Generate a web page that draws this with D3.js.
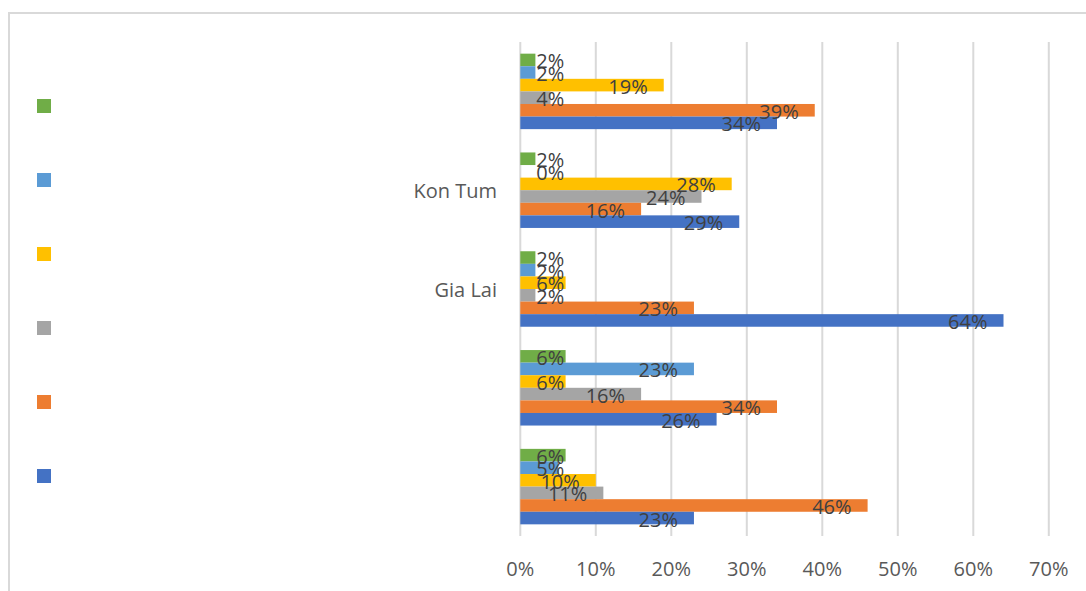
<!DOCTYPE html>
<html>
<head>
<meta charset="utf-8">
<script src="https://cdn.jsdelivr.net/npm/d3@7"></script>
<style>
  html, body { margin: 0; padding: 0; background: #ffffff; }
  svg { display: block; }
</style>
</head>
<body>
<svg id="chart" width="1086" height="591"></svg>
<script>
// Provinces, listed top to bottom as they appear on the chart
const categories = ["", "Kon Tum", "Gia Lai", "", ""];

// Series names as shown in the legend (top to bottom order of the legend)
const seriesNames = ["", "", "", "", "", ""];
const seriesColors = ["#70AD47", "#5B9BD5", "#FFC000", "#A5A5A5", "#ED7D31", "#4472C4"];

// Shares per series, one value per category (same order as categories)
const greenValues     = [0.02, 0.02, 0.02, 0.06, 0.06];
const lightBlueValues = [0.02, 0.00, 0.02, 0.23, 0.05];
const yellowValues    = [0.19, 0.28, 0.06, 0.06, 0.10];
const grayValues      = [0.04, 0.24, 0.02, 0.16, 0.11];
const orangeValues    = [0.39, 0.16, 0.23, 0.34, 0.46];
const blueValues      = [0.34, 0.29, 0.64, 0.26, 0.23];

const xTicks = [0, 0.1, 0.2, 0.3, 0.4, 0.5, 0.6, 0.7];

const seriesValues = [greenValues, lightBlueValues, yellowValues, grayValues, orangeValues, blueValues];

const svg = d3.select("#chart");
const FONT = "'Open Sans', 'Liberation Sans', sans-serif";

// outer frame
svg.append("rect")
  .attr("x", 9).attr("y", 13)
  .attr("width", 1300).attr("height", 800)
  .attr("fill", "none")
  .attr("stroke", "#d9d9d9")
  .attr("stroke-width", 2);

const x = d3.scaleLinear().domain([0, 0.7]).range([520.3, 1048.8]);

const y = d3.scaleBand()
  .domain(d3.range(categories.length))
  .range([42, 536])
  .paddingInner(0.236)
  .paddingOuter(0.118);

const ySeries = d3.scaleBand()
  .domain(d3.range(seriesValues.length))
  .range([0, y.bandwidth()]);

// vertical gridlines
svg.append("g")
  .selectAll("line")
  .data(xTicks)
  .join("line")
  .attr("x1", d => x(d)).attr("x2", d => x(d))
  .attr("y1", 42).attr("y2", 536)
  .attr("stroke", "#d9d9d9")
  .attr("stroke-width", 2);

// x axis tick labels
svg.append("g")
  .selectAll("text")
  .data(xTicks)
  .join("text")
  .attr("x", d => x(d))
  .attr("y", 568)
  .attr("text-anchor", "middle")
  .attr("dominant-baseline", "central")
  .attr("font-family", FONT)
  .attr("font-size", 20)
  .attr("fill", "#595959")
  .text(d => d3.format(".0%")(d));

// category labels
svg.append("g")
  .selectAll("text")
  .data(categories)
  .join("text")
  .attr("x", 497)
  .attr("y", (d, i) => y(i) + y.bandwidth() / 2)
  .attr("text-anchor", "end")
  .attr("dominant-baseline", "central")
  .attr("font-family", FONT)
  .attr("font-size", 20)
  .attr("fill", "#595959")
  .text(d => d);

// bars
const flat = [];
seriesValues.forEach((vals, s) => {
  vals.forEach((v, c) => flat.push({ s, c, v }));
});

svg.append("g")
  .selectAll("rect")
  .data(flat)
  .join("rect")
  .attr("x", x(0))
  .attr("y", d => y(d.c) + ySeries(d.s))
  .attr("width", d => x(d.v) - x(0))
  .attr("height", ySeries.bandwidth())
  .attr("fill", d => seriesColors[d.s]);

// data labels at the inside end of each bar
const labels = svg.append("g")
  .selectAll("text")
  .data(flat)
  .join("text")
  .attr("y", d => y(d.c) + ySeries(d.s) + ySeries.bandwidth() / 2 + 1)
  .attr("text-anchor", "end")
  .attr("dominant-baseline", "central")
  .attr("font-family", FONT)
  .attr("font-size", 20)
  .attr("fill", "#404040")
  .text(d => d3.format(".0%")(d.v));

labels.each(function (d) {
  const w = this.getComputedTextLength();
  const right = Math.max(x(d.v) - 16, x(0) + 16 + w);
  d3.select(this).attr("x", right);
});

// legend markers
const legend = svg.append("g")
  .selectAll("g")
  .data(seriesNames)
  .join("g")
  .attr("transform", (d, i) => `translate(37, ${99 + i * 74})`);

legend.append("rect")
  .attr("width", 14).attr("height", 14)
  .attr("fill", (d, i) => seriesColors[i]);

legend.append("text")
  .attr("x", 22).attr("y", 7)
  .attr("dominant-baseline", "central")
  .attr("font-family", FONT)
  .attr("font-size", 20)
  .attr("fill", "#595959")
  .text(d => d);
</script>
</body>
</html>
